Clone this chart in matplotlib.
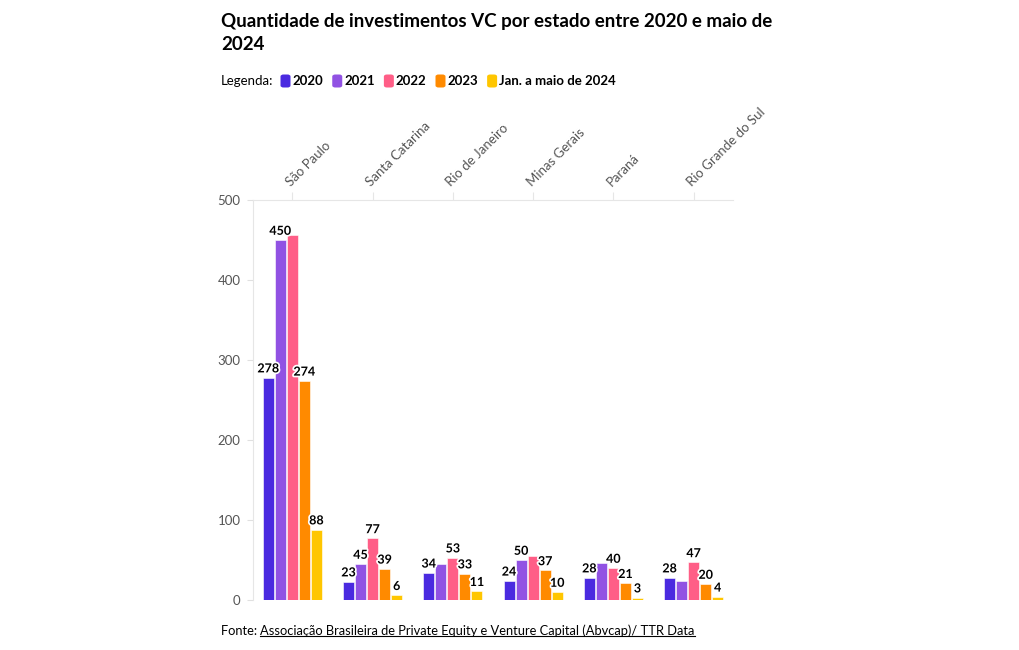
import numpy as np
import matplotlib.pyplot as plt
import matplotlib.patheffects as pe
from matplotlib.patches import FancyBboxPatch
from matplotlib.lines import Line2D

plt.rcParams["font.family"] = ["Lato", "DejaVu Sans"]

states = ["São Paulo", "Santa Catarina", "Rio de Janeiro", "Minas Gerais", "Paraná", "Rio Grande do Sul"]
series_names = ["2020", "2021", "2022", "2023", "Jan. a maio de 2024"]
v2020 = [278, 23, 34, 24, 28, 28]
v2021 = [450, 45, 45, 50, 46, 24]
v2022 = [456, 77, 53, 55, 40, 47]
v2023 = [274, 39, 33, 37, 21, 20]
v2024 = [88, 6, 11, 10, 3, 4]
values = [v2020, v2021, v2022, v2023, v2024]

# which value labels are visible in the original (others hidden by overlap)
show_label = [
    [True, True, True, True, True, True],
    [True, True, False, True, False, False],
    [False, True, True, False, True, True],
    [True, True, True, True, True, True],
    [True, True, True, True, True, True],
]

colors = ["#4a2ae0", "#9152e3", "#ff5e87", "#ff8a00", "#ffc600"]

W, H = 1020, 650
fig = plt.figure(figsize=(W / 100, H / 100), dpi=100)
ax = fig.add_axes([253 / W, 50 / H, 480 / W, 400 / H])

x = np.arange(len(states))
step = 0.15
bw = 0.138
for i, (vals, c) in enumerate(zip(values, colors)):
    xs = x + (i - 2) * step
    ax.bar(xs, vals, width=bw, color=c, edgecolor="white", linewidth=0.4, zorder=2)
    for xi, v, show in zip(xs, vals, show_label[i]):
        if show:
            ax.text(xi, v + 4, str(v), ha="center", va="bottom", fontsize=9,
                    fontweight="bold", color="black", zorder=3,
                    path_effects=[pe.withStroke(linewidth=2.5, foreground="white")])

ax.set_xlim(-0.49, 5.49)
ax.set_ylim(0, 500)
ax.set_yticks([0, 100, 200, 300, 400, 500])
ax.tick_params(axis="y", length=4, color="#e0e0e0", labelsize=9.5, labelcolor="#555555", pad=5)

ax.xaxis.tick_top()
ax.set_xticks(x)
ax.set_xticklabels(states, rotation=45, ha="left", rotation_mode="anchor")
ax.tick_params(axis="x", length=6, color="#e6e6e6", labelsize=9.5, labelcolor="#555555", pad=2)

for s in ["right", "bottom"]:
    ax.spines[s].set_visible(False)
ax.spines["left"].set_color("#e6e6e6")
ax.spines["top"].set_color("#e6e6e6")
ax.spines["left"].set_linewidth(0.8)
ax.spines["top"].set_linewidth(0.8)

# title
fig.text(221 / W, 1 - 13 / H, "Quantidade de investimentos VC por estado entre 2020 e maio de\n2024",
         fontsize=13.5, fontweight="bold", va="top", ha="left", linespacing=1.4)

# legend row
fig.canvas.draw()
renderer = fig.canvas.get_renderer()
ly = 1 - 81 / H
t = fig.text(221 / W, ly, "Legenda:", fontsize=9.5, va="center", ha="left")
xpos = t.get_window_extent(renderer).x1 + 7
for name, c in zip(series_names, colors):
    box = FancyBboxPatch((xpos / W, ly - 6.5 / H), 10 / W, 13 / H,
                         boxstyle="round,pad=0,rounding_size=0.003",
                         transform=fig.transFigure, facecolor=c, edgecolor="none")
    fig.add_artist(box)
    tt = fig.text((xpos + 12) / W, ly, name, fontsize=9.5, fontweight="bold", va="center", ha="left")
    xpos = tt.get_window_extent(renderer).x1 + 9

# source
sy = 1 - 631 / H
t1 = fig.text(221 / W, sy, "Fonte: ", fontsize=9.3, va="center", ha="left")
x1 = t1.get_window_extent(renderer).x1
t2 = fig.text(x1 / W, sy, "Associação Brasileira de Private Equity e Venture Capital (Abvcap)/ TTR Data",
              fontsize=9.3, va="center", ha="left")
bb = t2.get_window_extent(renderer)
fig.add_artist(Line2D([bb.x0 / W, bb.x1 / W], [(bb.y0 + 1) / H, (bb.y0 + 1) / H],
                      transform=fig.transFigure, color="black", linewidth=0.8))

fig.savefig("out.png", dpi=100)
